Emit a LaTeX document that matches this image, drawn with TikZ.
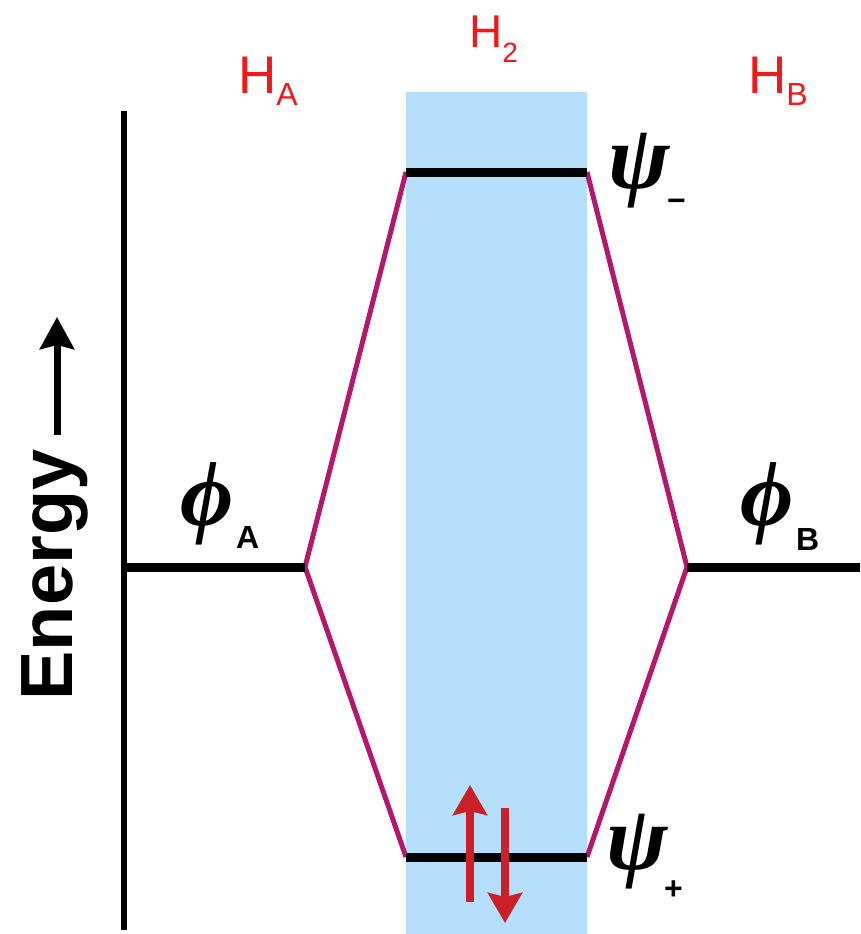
\documentclass[tikz,border=0pt]{standalone}
\usepackage{fontspec}
\setmainfont{Liberation Sans}
\newfontfamily\grk{Liberation Serif}
\usetikzlibrary{arrows.meta}
\definecolor{bandblue}{RGB}{180,222,250}
\definecolor{lblred}{RGB}{240,24,24}
\definecolor{corr}{RGB}{181,22,110}
\definecolor{elred}{RGB}{204,32,40}
\tikzset{
  enlevel/.style={line width=9pt, black},
  corrline/.style={line width=5pt, corr, line join=round},
  elarrow/.style={line width=7.5pt, elred, -{Stealth[length=30pt,width=34pt,inset=4pt]}},
  lbl/.style={inner sep=0pt, text=lblred, anchor=base west},
  grkl/.style={inner sep=0pt, font=\fontsize{92}{92}\grk\bfseries\itshape},
  subl/.style={inner sep=0pt, font=\fontsize{32}{32}\selectfont\bfseries},
}
\begin{document}
\begin{tikzpicture}[x=1pt,y=-1pt]
\useasboundingbox (0,0) rectangle (860,934);
% band
\fill[bandblue] (406,92) rectangle (587,934);
% level end points
\coordinate (aL) at (124,567); \coordinate (aR) at (305,567);
\coordinate (bL) at (687,567); \coordinate (bR) at (860,567);
\coordinate (mL) at (406,172); \coordinate (mR) at (587,172);
\coordinate (pL) at (406,857); \coordinate (pR) at (587,857);
% correlation lines
\draw[corrline] (mL) -- (aR) -- (pL);
\draw[corrline] (mR) -- (bL) -- (pR);
% levels
\draw[enlevel] (aL) -- (aR);
\draw[enlevel] (bL) -- (bR);
\draw[enlevel] (mL) -- (mR);
\draw[enlevel] (pL) -- (pR);
% energy axis
\coordinate (axT) at (124,111); \coordinate (axB) at (124,930);
\draw[line width=6pt] (axT) -- (axB);
\node[rotate=90, anchor=base, inner sep=0pt, font=\fontsize{74}{74}\selectfont\bfseries] (energy) at (72,575) {Energy};
\coordinate (eb) at (57,435); \coordinate (et) at (57,317);
\draw[line width=7pt, -{Stealth[length=32pt,width=34pt,inset=4pt]}] (eb) -- (et);
% electrons
\coordinate (u1) at (470,902); \coordinate (u2) at (470,785);
\coordinate (d1) at (505,808); \coordinate (d2) at (505,923);
\draw[elarrow] (u1) -- (u2);
\draw[elarrow] (d1) -- (d2);
% top labels
\node[lbl, font=\fontsize{53}{53}\selectfont] (HA) at (238,93) {H\raisebox{-12pt}{\fontsize{32}{32}\selectfont A}};
\node[lbl, font=\fontsize{46}{46}\selectfont] (H2) at (469,48) {H\raisebox{-15pt}{\fontsize{28}{28}\selectfont 2}};
\node[lbl, font=\fontsize{53}{53}\selectfont] (HB) at (748,93) {H\raisebox{-12pt}{\fontsize{32}{32}\selectfont B}};
% orbital labels
\node[grkl] (phiA) at (207,504) {ϕ};
\node[subl, anchor=base west] (subA) at (236,548) {A};
\node[grkl] (phiB) at (767,504) {ϕ};
\node[subl, anchor=base west] (subB) at (796,550) {B};
\node[grkl] (psiM) at (639,171) {ψ};
\node[subl, anchor=west] (subM) at (667,205) {−};
\node[grkl] (psiP) at (637,852) {ψ};
\node[subl, anchor=west] (subP) at (664,890) {+};
\end{tikzpicture}
\end{document}
